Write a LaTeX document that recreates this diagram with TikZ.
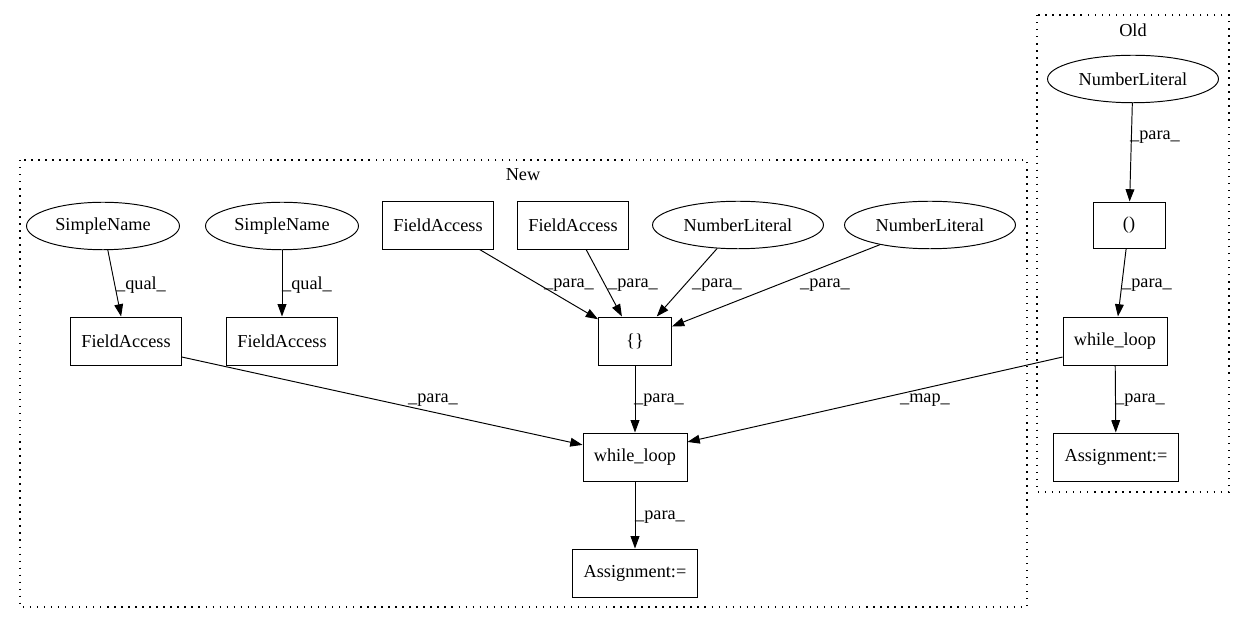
\documentclass[tikz,border=0pt]{standalone}
\usepackage{fontspec}
\setmainfont{Liberation Serif}
\usepackage{tikz}
\usetikzlibrary{shapes.geometric, arrows.meta}
\tikzstyle{box} = [rectangle, draw=black, line width=0.55pt, minimum height=0.96cm, inner sep=0pt, text centered]
\tikzstyle{oval} = [ellipse, draw=black, line width=0.55pt, minimum height=0.95cm, inner sep=0pt]
\tikzstyle{arrow} = [line width=0.55pt,->,>={Triangle[length=7pt,width=5pt]}]
\tikzstyle{lbl} = [inner sep=0pt]
\tikzstyle{cluster} = [line width=0.6pt, dash pattern=on 0.8pt off 3.2pt]

\begin{document}
\begin{tikzpicture}[x=0.02cm, y=-0.02cm, font=\fontsize{10.4}{12}\selectfont]
                            \useasboundingbox (0, 0) rectangle (1245, 624);
                            % clusters
                            \draw [cluster] (20, 160) rectangle (1027, 607);
                            \draw [cluster] (1037, 15) rectangle (1229, 492);
                            \node [lbl] (newlbl) at (523, 175) {New};
                            \node [lbl] (oldlbl) at (1133, 30) {Old};
                            % new
                            \node [oval, minimum width=3.06cm] (sn1) at (103, 226) {SimpleName};
                            \node [oval, minimum width=3.06cm] (sn2) at (282, 226) {SimpleName};
                            \node [box, minimum width=2.22cm] (fa1) at (126, 341) {FieldAccess};
                            \node [box, minimum width=2.22cm] (fa2) at (282, 341) {FieldAccess};
                            \node [box, minimum width=2.22cm] (fa3) at (438, 225) {FieldAccess};
                            \node [box, minimum width=2.22cm] (fa4) at (573, 225) {FieldAccess};
                            \node [oval, minimum width=3.42cm] (nl1) at (738, 225) {NumberLiteral};
                            \node [oval, minimum width=3.42cm] (nl2) at (930, 225) {NumberLiteral};
                            \node [box, minimum width=1.46cm] (brace) at (635, 341) {\{\}};
                            \node [box, minimum width=2.08cm] (wnew) at (635, 457) {while\_loop};
                            \node [box, minimum width=2.5cm] (anew) at (635, 573) {Assignment:=};
                            % old
                            \node [oval, minimum width=3.42cm] (nlold) at (1133, 79) {NumberLiteral};
                            \node [box, minimum width=1.44cm, minimum height=0.92cm] (paren) at (1129, 225) {()};
                            \node [box, minimum width=2.08cm] (wold) at (1115, 341) {while\_loop};
                            \node [box, minimum width=2.5cm] (aold) at (1116, 457) {Assignment:=};
                            % edges
                            \draw [arrow] (sn1) -- (fa1);
                            \draw [arrow] (sn2) -- (fa2);
                            \draw [arrow] (fa3) -- (brace);
                            \draw [arrow] (fa4) -- (brace);
                            \draw [arrow] (nl1) -- (brace);
                            \draw [arrow] (nl2) -- (brace);
                            \draw [arrow] (brace) -- (wnew);
                            \draw [arrow] (fa1.344) -- (wnew.167);
                            \draw [arrow] (wold.197) -- (wnew.16);
                            \draw [arrow] (wnew) -- (anew);
                            \draw [arrow] (nlold) -- (paren);
                            \draw [arrow] (paren) -- (wold);
                            \draw [arrow] (wold) -- (aold);
                            % edge labels
                            \node [lbl] (q1) at (141, 285) {\_qual\_};
                            \node [lbl] (q2) at (307, 285) {\_qual\_};
                            \node [lbl] (p1) at (569, 285) {\_para\_};
                            \node [lbl] (p2) at (633, 285) {\_para\_};
                            \node [lbl] (p3) at (717, 285) {\_para\_};
                            \node [lbl] (p4) at (825, 285) {\_para\_};
                            \node [lbl] (p5) at (433, 400) {\_para\_};
                            \node [lbl] (p6) at (659, 400) {\_para\_};
                            \node [lbl] (mp) at (925, 400) {\_map\_};
                            \node [lbl] (p7) at (660, 517) {\_para\_};
                            \node [lbl] (p8) at (1155, 137) {\_para\_};
                            \node [lbl] (p9) at (1147, 285) {\_para\_};
                            \node [lbl] (p10) at (1140, 400) {\_para\_};
                        \end{tikzpicture}
\end{document}
